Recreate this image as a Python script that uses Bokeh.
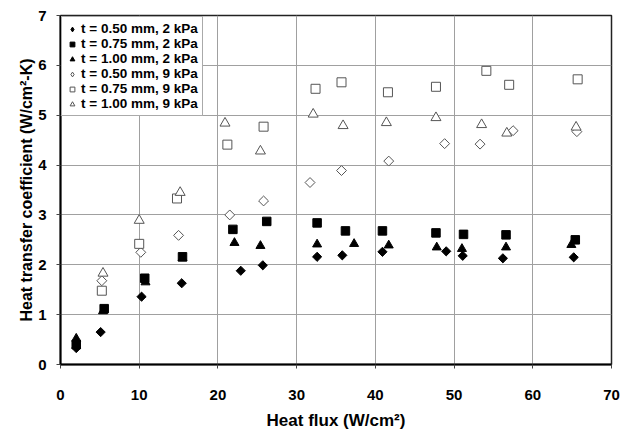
from bokeh.plotting import figure
from bokeh.models import Range1d, FixedTicker, Legend, LegendItem
from bokeh.embed import file_html
from bokeh.resources import INLINE
import math

# t = 0.50 mm, 2 kPa (filled diamonds)
x_050_2 = [2.0, 5.1, 10.3, 15.4, 22.9, 25.7, 32.6, 35.8, 40.9, 49.0, 51.1, 56.2, 65.2]
y_050_2 = [0.33, 0.65, 1.36, 1.63, 1.88, 1.99, 2.16, 2.19, 2.26, 2.27, 2.18, 2.13, 2.15]
# t = 0.75 mm, 2 kPa (filled squares)
x_075_2 = [2.0, 5.55, 10.7, 15.5, 21.9, 26.2, 32.6, 36.2, 40.9, 47.7, 51.2, 56.6, 65.4]
y_075_2 = [0.40, 1.12, 1.73, 2.16, 2.71, 2.87, 2.84, 2.68, 2.68, 2.64, 2.61, 2.60, 2.50]
# t = 1.00 mm, 2 kPa (filled triangles)
x_100_2 = [2.0, 5.4, 10.8, 15.5, 22.1, 25.4, 32.6, 37.3, 41.7, 47.8, 51.0, 56.6, 64.9]
y_100_2 = [0.52, 1.07, 1.65, 2.13, 2.44, 2.38, 2.41, 2.42, 2.39, 2.35, 2.32, 2.35, 2.40]
# t = 0.50 mm, 9 kPa (open diamonds)
x_050_9 = [5.25, 10.2, 15.0, 21.5, 25.8, 31.7, 35.7, 41.7, 48.8, 53.3, 57.5, 65.6]
y_050_9 = [1.68, 2.25, 2.59, 3.00, 3.28, 3.65, 3.89, 4.08, 4.43, 4.42, 4.69, 4.67]
# t = 0.75 mm, 9 kPa (open squares)
x_075_9 = [5.25, 10.0, 14.8, 21.2, 25.8, 32.4, 35.7, 41.6, 47.7, 54.1, 57.0, 65.7]
y_075_9 = [1.48, 2.42, 3.33, 4.41, 4.77, 5.53, 5.66, 5.46, 5.57, 5.89, 5.61, 5.72]
# t = 1.00 mm, 9 kPa (open triangles)
x_100_9 = [5.4, 10.0, 15.2, 20.9, 25.4, 32.1, 35.9, 41.4, 47.7, 53.5, 56.7, 65.5]
y_100_9 = [1.83, 2.89, 3.45, 4.84, 4.28, 5.02, 4.79, 4.85, 4.95, 4.81, 4.64, 4.76]

labels = ["t = 0.50 mm, 2 kPa", "t = 0.75 mm, 2 kPa", "t = 1.00 mm, 2 kPa",
          "t = 0.50 mm, 9 kPa", "t = 0.75 mm, 9 kPa", "t = 1.00 mm, 9 kPa"]
x_ticks = [0, 10, 20, 30, 40, 50, 60, 70]
y_ticks = [0, 1, 2, 3, 4, 5, 6, 7]

FONT = "Liberation Sans"
NAN = float("nan")

p = figure(width=624, height=432, output_backend="svg", toolbar_location=None,
           x_range=Range1d(0, 70), y_range=Range1d(0, 7),
           min_border_left=60, min_border_top=15, min_border_right=13, min_border_bottom=65)
p.background_fill_color = "white"
p.border_fill_color = "white"
p.outline_line_color = "#222222"
p.outline_line_width = 1.5

for ax in (p.xaxis, p.yaxis):
    ax.axis_line_color = "black"
    ax.axis_line_width = 2
    ax.major_tick_line_color = "#444444"
    ax.major_tick_out = 4
    ax.major_tick_in = 0
    ax.minor_tick_line_color = None
    ax.major_label_text_font = FONT
    ax.major_label_text_font_style = "bold"
    ax.major_label_text_font_size = "15px"
    ax.major_label_text_color = "black"
    ax.axis_label_text_font = FONT
    ax.axis_label_text_font_style = "bold"
    ax.axis_label_text_color = "black"

p.xaxis.ticker = FixedTicker(ticks=x_ticks)
p.yaxis.ticker = FixedTicker(ticks=y_ticks)
p.xaxis.axis_label = "Heat flux (W/cm²)"
p.yaxis.axis_label = "Heat transfer coefficient (W/cm²-K)"
p.xaxis.axis_label_text_font_size = "17px"
p.yaxis.axis_label_text_font_size = "16px"
p.xaxis.major_label_standoff = 21
p.xaxis.axis_label_standoff = 8
p.yaxis.major_label_standoff = 10
p.yaxis.axis_label_standoff = 0

p.xgrid.grid_line_color = "#a0a0a0"
p.ygrid.grid_line_color = "#a0a0a0"
p.xgrid.grid_line_width = 1
p.ygrid.grid_line_width = 1

rot = math.pi / 4
r1 = p.scatter(x_050_2, y_050_2, marker="square", angle=rot, size=6.5, fill_color="black", line_color="black")
r2 = p.scatter(x_075_2, y_075_2, marker="square", size=8.5, fill_color="black", line_color="black")
r3 = p.scatter(x_100_2, y_100_2, marker="triangle", size=9, fill_color="black", line_color="black")
r4 = p.scatter(x_050_9, y_050_9, marker="square", angle=rot, size=7, fill_color="white", line_color="#555555", line_width=1)
r5 = p.scatter(x_075_9, y_075_9, marker="square", size=9, fill_color="white", line_color="#555555", line_width=1)
r6 = p.scatter(x_100_9, y_100_9, marker="triangle", size=10, fill_color="white", line_color="#555555", line_width=1)

# legend-only proxies (NaN, never drawn in the plot) so the legend shows diamond shapes
l1 = p.scatter([NAN], [NAN], marker="diamond", size=9, fill_color="black", line_color="black")
l4 = p.scatter([NAN], [NAN], marker="diamond", size=9, fill_color="white", line_color="#555555", line_width=1)

legend = Legend(items=[LegendItem(label=l, renderers=[r]) for l, r in
                       zip(labels, [l1, r2, r3, l4, r5, r6])],
                location="top_left")
legend.label_text_font = FONT
legend.label_text_font_style = "bold"
legend.label_text_font_size = "13.5px"
legend.label_text_color = "black"
legend.label_height = 14
legend.glyph_height = 14
legend.glyph_width = 12
legend.label_standoff = 3
legend.spacing = 0
legend.padding = 4
legend.margin = 1
legend.border_line_color = "#555555"
legend.border_line_width = 1
legend.background_fill_color = "white"
legend.background_fill_alpha = 1
p.add_layout(legend)

open("out.html", "w").write(file_html(p, INLINE))
